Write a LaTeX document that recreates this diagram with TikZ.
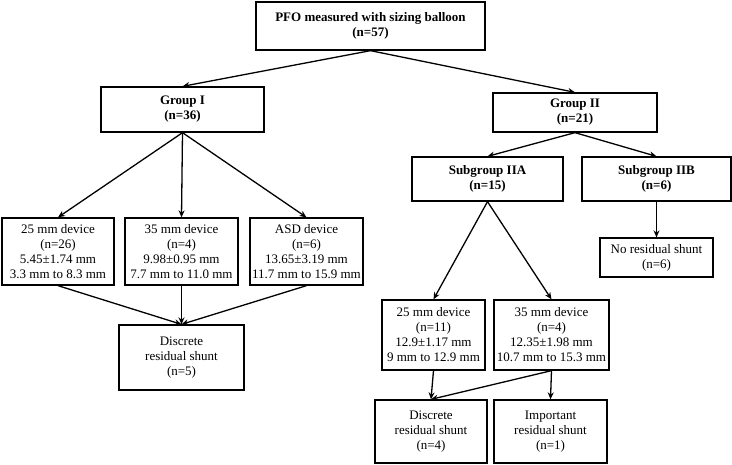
\documentclass[tikz,border=0pt]{standalone}
\usepackage{fontspec}
\setmainfont{Liberation Serif}
\usetikzlibrary{arrows.meta}
\begin{document}
\begin{tikzpicture}[x=1pt,y=-1pt,
  box/.style={draw=black, line width=1.3pt, fill=white, align=center, inner sep=0pt,
    font=\fontsize{13}{15}\selectfont},
  hbox/.style={box, font=\fontsize{13}{15}\selectfont\bfseries},
  arr/.style={line width=1.3pt, -{Stealth[length=7pt,width=6pt]}}]
\useasboundingbox (0,0) rectangle (732,464);
\node[hbox, minimum width=229pt, minimum height=48pt] (top) at (370.5,26) {PFO measured with sizing balloon\\(n=57)};
\node[hbox, minimum width=163pt, minimum height=45pt] (g1) at (182.5,109.5) {Group I\\(n=36)};
\node[hbox, minimum width=164pt, minimum height=39pt] (g2) at (575,112.5) {Group II\\(n=21)};
\node[box, minimum width=112pt, minimum height=67pt] (d1) at (58,251.5) {25 mm device\\(n=26)\\5.45±1.74 mm\\3.3 mm to 8.3 mm};
\node[box, minimum width=113pt, minimum height=67pt] (d2) at (181.5,251.5) {35 mm device\\(n=4)\\9.98±0.95 mm\\7.7 mm to 11.0 mm};
\node[box, minimum width=113pt, minimum height=67pt] (d3) at (306.5,251.5) {ASD device\\(n=6)\\13.65±3.19 mm\\11.7 mm to 15.9 mm};
\node[box, minimum width=125pt, minimum height=65pt] (r1) at (181.5,357.5) {Discrete\\residual shunt\\(n=5)};
\node[hbox, minimum width=151pt, minimum height=44pt] (s2a) at (487.5,179) {Subgroup IIA\\(n=15)};
\node[hbox, minimum width=149pt, minimum height=44pt] (s2b) at (656.5,179) {Subgroup IIB\\(n=6)};
\node[box, minimum width=113pt, minimum height=39pt] (nr) at (656.5,257.5) {No residual shunt\\(n=6)};
\node[box, minimum width=103pt, minimum height=70pt] (e1) at (433.5,335) {25 mm device\\(n=11)\\12.9±1.17 mm\\9 mm to 12.9 mm};
\node[box, minimum width=115pt, minimum height=70pt] (e2) at (551.5,335) {35 mm device\\(n=4)\\12.35±1.98 mm\\10.7 mm to 15.3 mm};
\node[box, minimum width=112pt, minimum height=63pt] (r2) at (431,431.5) {Discrete\\residual shunt\\(n=4)};
\node[box, minimum width=113pt, minimum height=63pt] (r3) at (550.5,431.5) {Important\\residual shunt\\(n=1)};
\draw[arr] (top.south) -- (g1.north);
\draw[arr] (top.south) -- (g2.north);
\draw[arr] (g1.south) -- (d1.north);
\draw[arr] (g1.south) -- (d2.north);
\draw[arr] (g1.south) -- (d3.north);
\draw[arr] (d1.south) -- (r1.north);
\draw[arr] (d2.south) -- (r1.north);
\draw[arr] (d3.south) -- (r1.north);
\draw[arr] (g2.south) -- (s2a.north);
\draw[arr] (g2.south) -- (s2b.north);
\draw[arr] (s2b.south) -- (nr.north);
\draw[arr] (s2a.south) -- (e1.north);
\draw[arr] (s2a.south) -- (e2.north);
\draw[arr] (e1.south) -- (r2.north);
\draw[arr] (e2.south) -- (r3.north);
\draw[arr] (e2.south) -- (r2.north);
\end{tikzpicture}
\end{document}
